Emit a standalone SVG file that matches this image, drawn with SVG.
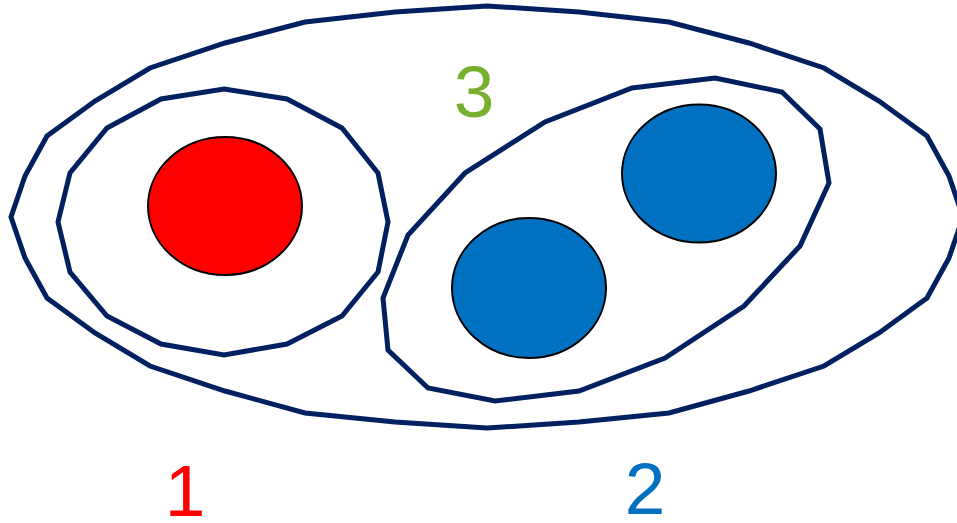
<svg xmlns="http://www.w3.org/2000/svg" width="957" height="523" viewBox="0 0 957 523">
<style>
.set{fill:none;stroke:#002060;stroke-width:5;stroke-linejoin:miter}
.dot{stroke:#000;stroke-width:2}
.lbl{font-family:"Liberation Sans",Arial,sans-serif;font-size:73px;text-anchor:middle}
</style>
<rect width="957" height="523" fill="#fff"/>
<g id="set3">
<polygon class="set" points="487,6 579,12 669,22 749,43 824,68 879,101 927,136 949,176 963,217 949,258 927,298 879,333 824,366 749,391 669,413 579,422 487,428 395,422 305,413 225,391 150,366 95,333 47,298 25,258 11,217 25,176 47,136 95,101 150,68 225,43 305,22 395,12"/>
</g>
<g id="set1">
<polygon class="set" points="224,89 287,99 342,128 378,173 388,222 378,272 342,316 287,344 224,355 161,344 107,316 70,272 58,222 70,173 107,128 161,99"/>
</g>
<g id="set2">
<polygon class="set" points="715,78 782,92 820,129 829,183 800,246 744,306 665,358 579,391 495,401 428,388 388,350 383,298 408,235 465,173 545,122 632,88"/>
</g>
<g id="node-red">
<ellipse class="dot" cx="225" cy="206" rx="77" ry="69" fill="#FF0000"/>
</g>
<g id="node-blue1">
<ellipse class="dot" cx="699" cy="173.5" rx="77" ry="69" fill="#0070C0"/>
</g>
<g id="node-blue2">
<ellipse class="dot" cx="529" cy="288" rx="77" ry="70" fill="#0070C0"/>
</g>
<g id="labels">
<text class="lbl" x="474" y="117" fill="#77B02F">3</text>
<text class="lbl" x="185" y="516" fill="#FF0000">1</text>
<text class="lbl" x="645" y="514" fill="#0070C0">2</text>
</g>
</svg>
